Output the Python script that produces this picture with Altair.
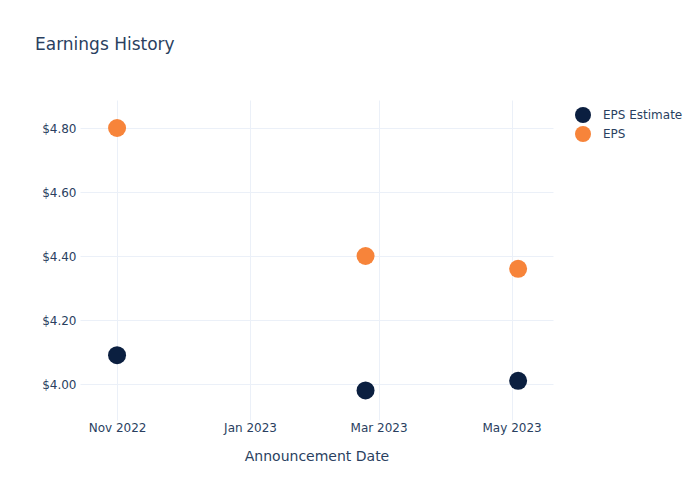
import altair as alt
import pandas as pd

dates = ["2022-11-01", "2023-02-23", "2023-05-04"]
eps_estimate = [4.09, 3.98, 4.01]
eps_actual = [4.80, 4.40, 4.36]
series_names = ["EPS Estimate", "EPS"]
series_colors = ["#0B1F40", "#F7843A"]
y_ticks = [4.0, 4.2, 4.4, 4.6, 4.8]

rows = []
for d, v in zip(dates, eps_estimate):
    rows.append({"date": d, "value": v, "series": "EPS Estimate", "order": 0})
for d, v in zip(dates, eps_actual):
    rows.append({"date": d, "value": v, "series": "EPS", "order": 1})
df = pd.DataFrame(rows)

FONT = "DejaVu Sans"
TXT = "#2a3f5f"
GRID = "#EBF0F8"

chart = alt.Chart(df).mark_circle(size=324, opacity=1).encode(
    x=alt.X(
        "date:T",
        title="Announcement Date",
        scale=alt.Scale(
            type="utc",
            domain=[alt.DateTime(year=2022, month=10, date=15, utc=True),
                    alt.DateTime(year=2023, month=5, date=20, utc=True)],
            nice=False,
        ),
        axis=alt.Axis(
            format="%b %Y",
            tickCount=alt.TimeIntervalStep(interval="month", step=2),
            domain=False, ticks=False, grid=True, gridColor=GRID, gridWidth=1,
            labelFont=FONT, labelFontSize=12, labelColor=TXT, labelPadding=2,
            titleFont=FONT, titleFontSize=14, titleColor=TXT, titleFontWeight="normal",
            titlePadding=16, labelFlush=False,
        ),
    ),
    y=alt.Y(
        "value:Q",
        title=None,
        scale=alt.Scale(domain=[3.8875, 4.8875], nice=False, zero=False),
        axis=alt.Axis(
            format="$.2f", values=y_ticks,
            domain=False, ticks=False, grid=True, gridColor=GRID, gridWidth=1,
            labelFont=FONT, labelFontSize=12, labelColor=TXT, labelPadding=4,
        ),
    ),
    color=alt.Color(
        "series:N",
        scale=alt.Scale(domain=series_names, range=series_colors),
        legend=alt.Legend(
            title=None, orient="none", legendX=495, legendY=7,
            symbolType="circle", symbolSize=256, symbolStrokeWidth=0, symbolOpacity=1,
            labelFont=FONT, labelFontSize=12, labelColor=TXT, labelOffset=12,
            rowPadding=3,
        ),
    ),
    order=alt.Order("order:Q"),
).properties(
    width=473,
    height=320,
    title=alt.TitleParams(
        "Earnings History", anchor="start", frame="group", dx=-45, offset=46,
        font=FONT, fontSize=17, color=TXT, fontWeight="normal",
    ),
    padding={"left": 80, "top": 100, "right": 147, "bottom": 80},
    autosize="none",
).configure(
    background="white",
    view=alt.ViewConfig(stroke="transparent", strokeWidth=0),
)

chart.save("out.html", embed_options={"renderer": "svg", "actions": False})
